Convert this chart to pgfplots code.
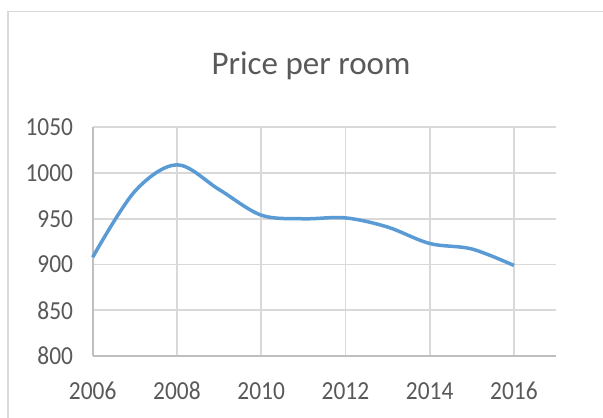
\documentclass[border=0pt]{standalone}
\usepackage{fontspec}
\setmainfont{Carlito}
\newfontfamily\tickfont{Carlito}[FakeStretch=0.9]
\usepackage{pgfplots}
\pgfplotsset{compat=1.18}

\definecolor{lineblue}{HTML}{5B9BD5}
\definecolor{gridgray}{HTML}{D9D9D9}
\definecolor{axisgray}{HTML}{BFBFBF}
\definecolor{textgray}{HTML}{595959}

\begin{document}
\begin{tikzpicture}
    \path[use as bounding box] (-92.7pt,-62pt) rectangle (510.3pt,356pt);
    % chart frame (only top and left edge visible)
    \draw[gridgray, line width=1.8pt] (-85pt,-80pt) -- (-85pt,344.4pt) -- (530pt,344.4pt);
    \node[anchor=base, text=textgray, font=\fontsize{33}{38}\selectfont] at (218.3pt,281pt) {Price per room};
    \begin{axis}[
        at={(0pt,0pt)}, anchor=origin,
        scale only axis,
        width=463.3pt, height=228.7pt,
        xmin=2006, xmax=2017,
        ymin=800, ymax=1050,
        xtick={2006,2008,...,2016},
        ytick={800,850,...,1050},
        axis x line=bottom, axis y line=left,
        axis line style={-, axisgray, line width=1.8pt},
        major tick length=0pt,
        grid=major,
        major grid style={gridgray, line width=1.8pt},
        /pgf/number format/assume math mode=true,
        /pgf/number format/set thousands separator={},
        ticklabel style={text=textgray, font=\tickfont\fontsize{26}{30}\selectfont, inner sep=0pt},
        yticklabel style={anchor=east, xshift=-19.5pt},
        xticklabel style={anchor=north, yshift=-26pt},
        clip=false,
    ]
    \addplot[lineblue, line width=3.5pt, smooth, tension=0.55] coordinates {
        (2006,908)
        (2007,980)
        (2008,1009)
        (2009,982)
        (2010,954)
        (2011,950)
        (2012,951)
        (2013,941)
        (2014,923)
        (2015,917)
        (2016,899)
    };
    \end{axis}
\end{tikzpicture}
\end{document}
